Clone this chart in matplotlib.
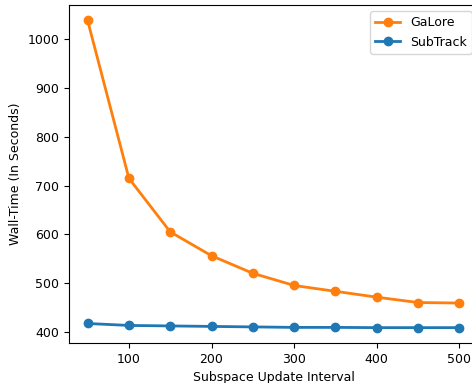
import matplotlib.pyplot as plt

# Subspace update interval vs wall-time
intervals = [50, 100, 150, 200, 250, 300, 350, 400, 450, 500]
galore_time = [1039, 715, 605, 556, 520, 495, 483, 471, 460, 459]
subtrack_time = [417, 413, 412, 411, 410, 409, 409, 408.5, 408.5, 408.5]

plt.rcParams["font.size"] = 9

fig = plt.figure(figsize=(4.72, 3.83), dpi=100)
ax = fig.add_axes([69 / 472, 40 / 383, 409 / 472, 338 / 383])
ax.plot(intervals, galore_time, marker="o", color="tab:orange", linewidth=2, label="GaLore")
ax.plot(intervals, subtrack_time, marker="o", color="tab:blue", linewidth=2, label="SubTrack")
ax.set_xlabel("Subspace Update Interval")
ax.set_ylabel("Wall-Time (In Seconds)")
ax.set_yticks([400, 500, 600, 700, 800, 900, 1000])
ax.legend(loc="upper right")
fig.savefig("out.png", dpi=100)
